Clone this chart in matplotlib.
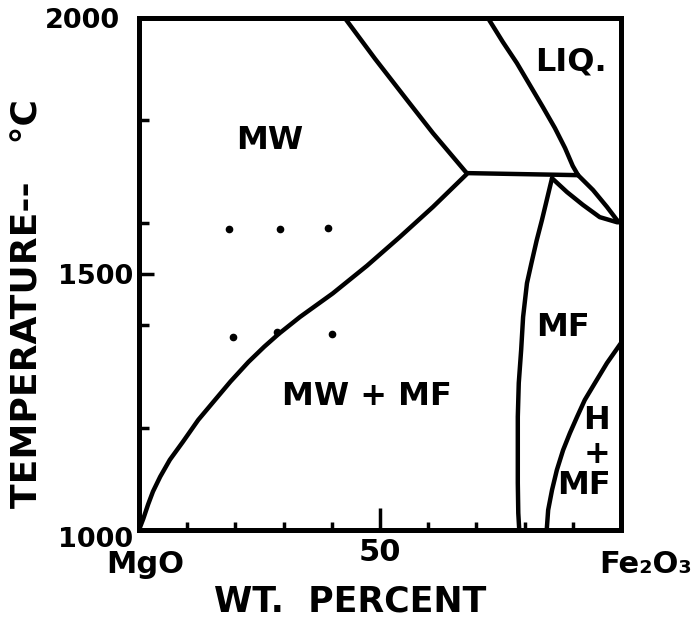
import matplotlib
matplotlib.use('Agg')
import matplotlib.pyplot as plt
from matplotlib.transforms import ScaledTranslation

# phase boundaries (wt. % Fe2O3, temperature in C)
mw_mf_x = [0, 0.9, 1.9, 2.9, 4.4, 6.4, 9.1, 12.3, 15.6, 19.0, 22.7, 26.0, 29.0, 33.4, 40.2, 47.3, 54.1, 61.0, 68.0]
mw_mf_y = [1000, 1022, 1050, 1075, 1104, 1137, 1172, 1215, 1252, 1290, 1328, 1358, 1383, 1416, 1462, 1516, 1572, 1631, 1695]

mw_liq_x = [42.7, 49.0, 55.6, 61.0, 68.0]
mw_liq_y = [2000, 1920, 1840, 1775, 1697]

flat_x = [68.0, 91.1]
flat_y = [1697, 1693]

liquidus_x = [72.4, 75.5, 78.4, 81.1, 83.8, 86.3, 88.4, 90.0, 91.1]
liquidus_y = [2000, 1953, 1912, 1869, 1826, 1785, 1746, 1711, 1693]

lens_top_x = [91.1, 94.2, 97.1, 99.2, 100]
lens_top_y = [1693, 1664, 1631, 1605, 1601]

lens_bot_x = [85.7, 88.8, 92.1, 95.6, 99.2, 100]
lens_bot_y = [1687, 1660, 1635, 1611, 1601, 1601]

mf_left_x = [85.7, 84.6, 83.6, 82.5, 81.4, 80.5, 79.7, 79.3, 78.8, 78.6, 78.6, 78.6, 78.7, 78.9]
mf_left_y = [1687, 1644, 1605, 1565, 1520, 1482, 1416, 1352, 1287, 1221, 1156, 1092, 1033, 1000]

h_mf_x = [100, 97.1, 94.6, 92.5, 90.9, 89.4, 88.0, 86.7, 85.7, 84.9, 84.6]
h_mf_y = [1365, 1326, 1287, 1254, 1221, 1189, 1156, 1117, 1078, 1039, 1000]

# experimental points
dots_x = [18.7, 29.3, 39.2, 19.5, 28.6, 40.0]
dots_y = [1588, 1588, 1590, 1377, 1387, 1383]

# region labels
region_names = ['MW', 'MW + MF', 'MF', 'LIQ.', 'H', '+', 'MF']
region_x = [27.2, 47.3, 88.0, 89.6, 95.0, 95.0, 92.3]
region_y = [1760, 1260, 1396, 1914, 1213, 1148, 1086]

y_major = [1000, 1500, 2000]
y_labels = ['1000', '1500', '2000']
y_minor = [1200, 1400, 1600, 1800]
x_major = [0, 50, 100]
x_labels = ['MgO', '50', 'Fe\u2082O\u2083']
x_minor = [10, 20, 30, 40, 60, 70, 80, 90]


def main():
	plt.rcParams['font.family'] = ['DejaVu Sans']
	plt.rcParams['font.weight'] = 'bold'

	fig = plt.figure(figsize=(6.98, 6.26), dpi=100)
	ax = fig.add_axes([0.1991, 0.1534, 0.6905, 0.8179])

	lw = 3.2
	kw = dict(color='black', linewidth=lw, solid_capstyle='round', solid_joinstyle='round')
	for xs, ys in [(mw_mf_x, mw_mf_y), (mw_liq_x, mw_liq_y), (flat_x, flat_y),
				   (liquidus_x, liquidus_y), (lens_top_x, lens_top_y), (lens_bot_x, lens_bot_y),
				   (mf_left_x, mf_left_y), (h_mf_x, h_mf_y)]:
		ax.plot(xs, ys, **kw)

	ax.plot(dots_x, dots_y, 'o', color='black', markersize=4.5, linestyle='none')

	for name, x, y in zip(region_names, region_x, region_y):
		ax.text(x, y, name, ha='center', va='center', fontsize=23, fontweight='bold')

	ax.set_xlim(0, 100)
	ax.set_ylim(1000, 2000)

	for s in ax.spines.values():
		s.set_linewidth(3.6)

	# ticks point inward, like the hand drawn ones
	ax.set_yticks(y_major, labels=y_labels)
	ax.set_yticks(y_minor, minor=True)
	ax.set_xticks(x_major, labels=x_labels)
	ax.set_xticks(x_minor, minor=True)
	ax.tick_params(axis='y', which='major', direction='in', length=11, width=2.5, pad=4, labelsize=19.5)
	ax.tick_params(axis='y', which='minor', direction='in', length=7, width=2.5)
	ax.tick_params(axis='x', which='major', direction='in', length=16, width=2.5, pad=6, labelsize=22)
	ax.tick_params(axis='x', which='minor', direction='in', length=6, width=2.5)

	# nudge a few labels to where they sit on the original
	dpi_t = fig.dpi_scale_trans
	ylabs = ax.get_yticklabels()
	ylabs[0].set_transform(ylabs[0].get_transform() + ScaledTranslation(0, -0.07, dpi_t))
	ylabs[2].set_transform(ylabs[2].get_transform() + ScaledTranslation(-0.13, 0, dpi_t))
	xlabs = ax.get_xticklabels()
	xlabs[0].set_transform(xlabs[0].get_transform() + ScaledTranslation(0.06, -0.12, dpi_t))
	xlabs[2].set_transform(xlabs[2].get_transform() + ScaledTranslation(0.25, -0.12, dpi_t))
	for lab in xlabs + ylabs:
		lab.set_fontweight('bold')

	fig.text(350 / 698, 1 - 602 / 626, 'WT.  PERCENT', ha='center', va='center', fontsize=25, fontweight='bold')
	fig.text(28 / 698, 1 - 304 / 626, 'TEMPERATURE--   \u00b0C', ha='center', va='center',
			 rotation=90, fontsize=26, fontweight='bold')

	plt.savefig('out.png', dpi=100)
	plt.close()


if __name__ == '__main__':
	main()
